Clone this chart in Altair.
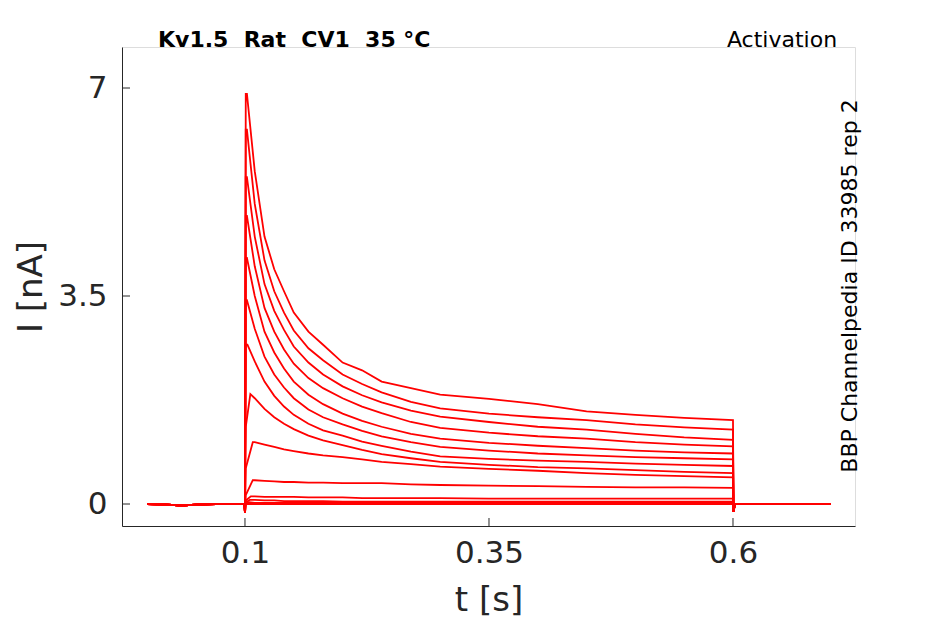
import altair as alt
import pandas as pd

# ---- data ----
TRACE_IDS = ["T1", "T2", "T3", "T4", "T5", "T6", "T7", "T8", "T9", "T10", "T11", "T12", "T13", "T14"]

PRE_T = [0.0, 0.02, 0.035, 0.05, 0.07, 0.0995, 0.1]
PRE_V = [0.0, -0.01, -0.025, -0.01, 0.0, 0.0, -0.15]

ONSET_T = [0.1008, 0.1008, 0.1008, 0.1008, 0.1008, 0.1008, 0.1008, 0.1008, 0.1008, 0.1008, 0.1008, 0.1008, 0.1008, 0.1008]
ONSET_V = [6.90, 6.30, 5.50, 4.85, 4.14, 3.43, 2.68, 1.30, 0.60, 0.15, 0.06, 0.03, 0.02, 0.0]
PEAK_T = [0.102, 0.102, 0.102, 0.102, 0.102, 0.102, 0.1025, 0.1055, 0.108, 0.108, 0.106, 0.105, 0.104, 0.104]
PEAK_V = [6.90, 6.30, 5.50, 4.85, 4.14, 3.43, 2.68, 1.85, 1.04, 0.40, 0.13, 0.07, 0.03, 0.0]

GRID_T = [0.11, 0.12, 0.13, 0.14, 0.15, 0.165, 0.18, 0.2, 0.22, 0.24, 0.27, 0.3, 0.35, 0.4, 0.45, 0.5, 0.55, 0.6]
T1 = [5.60, 4.50, 3.95, 3.58, 3.22, 2.90, 2.68, 2.38, 2.25, 2.06, 1.95, 1.84, 1.77, 1.68, 1.56, 1.50, 1.45, 1.41]
T2 = [5.05, 4.10, 3.58, 3.22, 2.92, 2.62, 2.42, 2.18, 2.02, 1.88, 1.72, 1.61, 1.52, 1.46, 1.41, 1.34, 1.29, 1.25]
T3 = [4.50, 3.70, 3.25, 2.93, 2.65, 2.38, 2.18, 1.98, 1.83, 1.71, 1.57, 1.47, 1.38, 1.30, 1.25, 1.18, 1.12, 1.08]
T4 = [4.00, 3.30, 2.90, 2.60, 2.36, 2.12, 1.95, 1.78, 1.64, 1.53, 1.38, 1.28, 1.20, 1.14, 1.10, 1.04, 1.00, 0.97]
T5 = [3.50, 2.90, 2.55, 2.28, 2.06, 1.84, 1.68, 1.52, 1.40, 1.30, 1.18, 1.10, 1.03, 0.98, 0.94, 0.90, 0.87, 0.85]
T6 = [2.95, 2.48, 2.18, 1.96, 1.78, 1.59, 1.46, 1.34, 1.23, 1.14, 1.04, 0.96, 0.90, 0.85, 0.82, 0.79, 0.77, 0.75]
T7 = [2.40, 2.06, 1.82, 1.64, 1.50, 1.35, 1.24, 1.15, 1.05, 0.98, 0.88, 0.80, 0.76, 0.73, 0.71, 0.68, 0.66, 0.64]
T8 = [1.78, 1.60, 1.46, 1.35, 1.26, 1.15, 1.07, 0.99, 0.91, 0.84, 0.77, 0.71, 0.66, 0.62, 0.60, 0.57, 0.54, 0.52]
T9 = [1.04, 1.00, 0.96, 0.92, 0.89, 0.85, 0.82, 0.79, 0.75, 0.71, 0.67, 0.63, 0.59, 0.56, 0.52, 0.49, 0.47, 0.45]
T10 = [0.40, 0.39, 0.38, 0.37, 0.37, 0.36, 0.36, 0.35, 0.35, 0.35, 0.33, 0.32, 0.31, 0.30, 0.29, 0.28, 0.28, 0.27]
T11 = [0.13, 0.12, 0.12, 0.12, 0.12, 0.11, 0.11, 0.11, 0.10, 0.10, 0.10, 0.10, 0.09, 0.09, 0.09, 0.09, 0.09, 0.09]
T12 = [0.07, 0.06, 0.06, 0.05, 0.05, 0.05, 0.05, 0.04, 0.04, 0.04, 0.04, 0.04, 0.04, 0.04, 0.04, 0.04, 0.04, 0.04]
T13 = [0.02, 0.02, 0.02, 0.02, 0.02, 0.02, 0.02, 0.02, 0.02, 0.02, 0.02, 0.02, 0.02, 0.02, 0.02, 0.02, 0.02, 0.02]
T14 = [0.0, 0.0, 0.0, 0.0, 0.0, 0.0, 0.0, 0.0, 0.0, 0.0, 0.0, 0.0, 0.0, 0.0, 0.0, 0.0, 0.0, 0.0]
STEP_VALUES = [T1, T2, T3, T4, T5, T6, T7, T8, T9, T10, T11, T12, T13, T14]

POST_T = [0.6005, 0.602, 0.65, 0.7]
POST_V = [-0.13, 0.0, 0.0, 0.0]

X_TICKS = [0.1, 0.35, 0.6]
Y_TICKS = [0, 3.5, 7]

NB = "\u00a0"
TITLE_LEFT = f"Kv1.5{NB} Rat{NB} CV1{NB} 35 °C"
TITLE_RIGHT = "Activation"
SIDE_TEXT = "BBP Channelpedia ID 33985 rep 2"

# ---- build table ----
rows = []
for i, tid in enumerate(TRACE_IDS):
    ts = PRE_T + [ONSET_T[i], PEAK_T[i]] + GRID_T + POST_T
    vs = PRE_V + [ONSET_V[i], PEAK_V[i]] + STEP_VALUES[i] + POST_V
    for k, (t, v) in enumerate(zip(ts, vs)):
        rows.append({"trace": tid, "k": k, "t": t, "v": v})
df = pd.DataFrame(rows)

W, H = 733, 479
XD = [-0.026, 0.725]
YD = [-0.37, 7.69]
FONT = "DejaVu Sans"
AXC = "#262626"

xs = alt.Scale(domain=XD, nice=False, zero=False)
ys = alt.Scale(domain=YD, nice=False, zero=False)

lines = alt.Chart(df).mark_line(color="#ff0000", strokeWidth=1.8, clip=True).encode(
    x=alt.X("t:Q", scale=xs, title="t [s]",
            axis=alt.Axis(values=X_TICKS, format="~g", ticks=False, grid=False,
                          labelFontSize=31, labelPadding=12, labelColor=AXC, labelFont=FONT,
                          titleFontSize=34, titleFont=FONT, titleColor=AXC, titleFontWeight="normal",
                          titlePadding=15, domainColor=AXC, labelFlush=False)),
    y=alt.Y("v:Q", scale=ys, title="I [nA]",
            axis=alt.Axis(values=Y_TICKS, format="~g", ticks=False, grid=False,
                          labelFontSize=31, labelPadding=15, labelColor=AXC, labelFont=FONT,
                          titleFontSize=34, titleFont=FONT, titleColor=AXC, titleFontWeight="normal",
                          titlePadding=9, domainColor=AXC, labelFlush=False)),
    detail="trace:N",
    order="k:Q",
)

xt = alt.Chart(pd.DataFrame({"t": X_TICKS})).mark_rule(color=AXC, strokeWidth=1).encode(
    x=alt.X("t:Q", scale=xs), y=alt.value(H), y2=alt.value(H - 8))
yt = alt.Chart(pd.DataFrame({"v": Y_TICKS})).mark_rule(color=AXC, strokeWidth=1).encode(
    y=alt.Y("v:Q", scale=ys), x=alt.value(0), x2=alt.value(8))

ann = pd.DataFrame({"a": [0]})
t_left = alt.Chart(ann).mark_text(font=FONT, fontSize=22, fontWeight="bold", color="black",
                                  align="left", baseline="alphabetic").encode(
    x=alt.value(36), y=alt.value(0), text=alt.value(TITLE_LEFT))
t_right = alt.Chart(ann).mark_text(font=FONT, fontSize=22, color="black",
                                   align="center", baseline="alphabetic").encode(
    x=alt.value(660), y=alt.value(0), text=alt.value(TITLE_RIGHT))
t_side = alt.Chart(ann).mark_text(font=FONT, fontSize=22, color="black", angle=270,
                                  align="center", baseline="middle").encode(
    x=alt.value(728), y=alt.value(239), text=alt.value(SIDE_TEXT))

chart = alt.layer(lines, xt, yt, t_left, t_right, t_side).properties(
    width=W, height=H,
    autosize=alt.AutoSizeParams(type="none"),
    padding={"left": 114, "top": 39, "right": 60, "bottom": 97},
).configure_view(stroke=None).configure(background="white")

chart.save("out.html", embed_options={"renderer": "svg", "actions": False})
